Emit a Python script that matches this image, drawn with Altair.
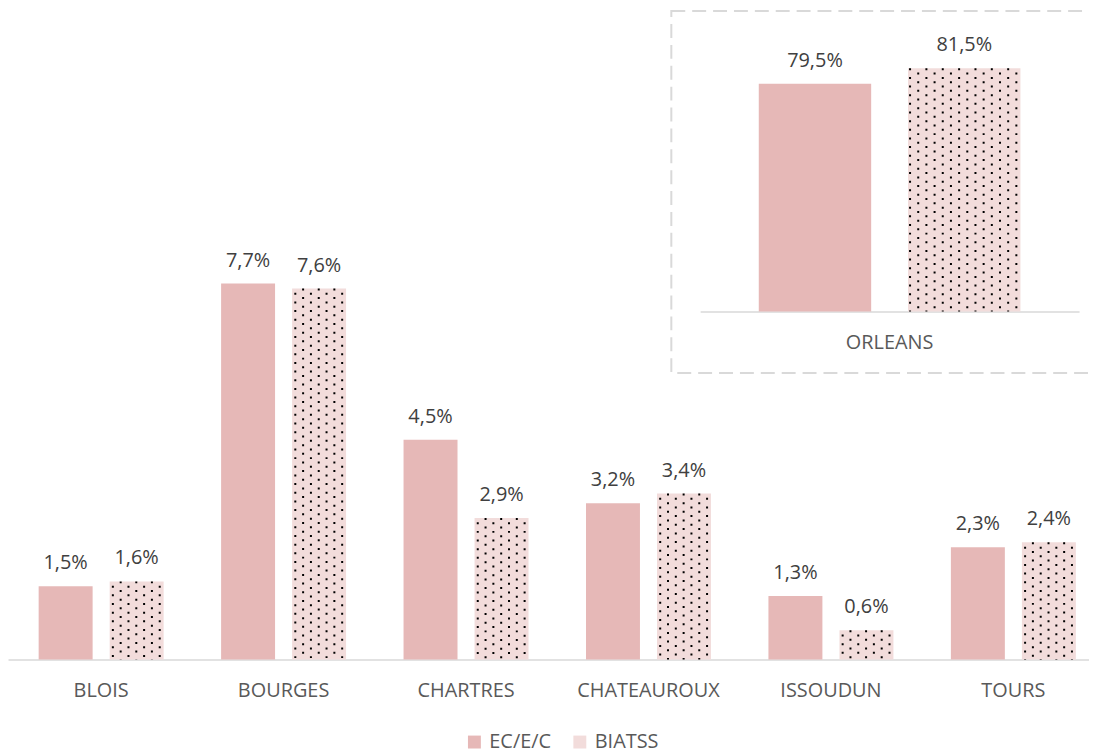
import altair as alt
import pandas as pd

categories = ["BLOIS", "BOURGES", "CHARTRES", "CHATEAUROUX", "ISSOUDUN", "TOURS"]
series_names = ["EC/E/C", "BIATSS"]
ec_values = [1.5, 7.7, 4.5, 3.2, 1.3, 2.3]
biatss_values = [1.6, 7.6, 2.9, 3.4, 0.6, 2.4]

inset_categories = ["ORLEANS"]
inset_ec_values = [79.5]
inset_biatss_values = [81.5]

colors = ["#E6B8B7", "#F2DCDB"]
FONT = "Open Sans"


def long_df(cats, ec, bi):
    rows = []
    for c, a, b in zip(cats, ec, bi):
        rows.append({"category": c, "series": series_names[0], "value": a})
        rows.append({"category": c, "series": series_names[1], "value": b})
    return pd.DataFrame(rows)


main_df = long_df(categories, ec_values, biatss_values)
inset_df = long_df(inset_categories, inset_ec_values, inset_biatss_values)

color_enc = alt.Color(
    "series:N",
    sort=series_names,
    scale=alt.Scale(domain=series_names, range=colors),
    legend=alt.Legend(
        title=None,
        orient="none",
        legendX=459,
        legendY=726,
        direction="horizontal",
        symbolType="square",
        symbolSize=169,
        symbolStrokeWidth=0,
        labelFont=FONT,
        labelFontSize=20,
        labelColor="#595959",
        labelOffset=5,
        columnPadding=18,
    ),
)

# ---------------- main chart ----------------
main_x = alt.X(
    "category:N",
    sort=categories,
    scale=alt.Scale(domain=categories, paddingInner=0.315, paddingOuter=0.12, align=0.7),
    axis=alt.Axis(
        title=None,
        orient="bottom",
        labelAngle=0,
        ticks=False,
        tickSize=0,
        domainColor="#D9D9D9",
        domainWidth=1.5,
        labelFont=FONT,
        labelFontSize=20,
        labelColor="#595959",
        labelPadding=37,
        labelBaseline="alphabetic",
    ),
)
main_y_scale = alt.Scale(domain=[0, 13.3], nice=False, zero=True)
main_xoff = alt.XOffset("series:N", sort=series_names,
                        scale=alt.Scale(domain=series_names, paddingInner=0.24, paddingOuter=0))

main_base = alt.Chart(main_df)
main_bars = main_base.mark_bar().encode(
    x=main_x,
    xOffset=main_xoff,
    y=alt.Y("value:Q", scale=main_y_scale, axis=None),
    color=color_enc,
)
main_labels = main_base.mark_text(
    baseline="alphabetic", dy=-17, font=FONT, fontSize=20, color="#404040"
).transform_calculate(
    label="replace(format(datum.value, '.1f'), '.', ',') + '%'"
).encode(
    x=main_x,
    xOffset=main_xoff,
    y=alt.Y("value:Q", scale=main_y_scale, axis=None),
    text="label:N",
)
main_dots = main_base.mark_rule(color="#000000", strokeWidth=2).transform_filter(
    alt.datum.series == series_names[1]
).transform_calculate(
    slot="sequence(9, 16)"
).transform_flatten(["slot"]).transform_calculate(
    parity="datum.slot % 2"
).encode(
    x=main_x,
    xOffset=alt.XOffset("slot:O", scale=alt.Scale(domain=list(range(16)), paddingInner=0, paddingOuter=0)),
    y=alt.Y("value:Q", scale=main_y_scale, axis=None),
    y2=alt.datum(0),
    strokeDash=alt.StrokeDash("parity:N", scale=alt.Scale(domain=[0, 1], range=[[2, 6.7], [0, 4.35, 2, 2.35]]), legend=None),
)
main = alt.layer(alt.layer(main_bars, main_labels), main_dots).resolve_scale(xOffset="independent")

# ---------------- inset chart ----------------
inset_x = alt.X(
    "category:N",
    scale=alt.Scale(domain=inset_categories, range=[696, 1077], paddingInner=0, paddingOuter=0.224),
    axis=alt.Axis(
        title=None,
        orient="bottom",
        labelAngle=0,
        ticks=False,
        tickSize=0,
        offset=-350,
        domainColor="#D9D9D9",
        domainWidth=1.5,
        labelFont=FONT,
        labelFontSize=20,
        labelColor="#595959",
        labelPadding=37,
        labelBaseline="alphabetic",
    ),
)
inset_y_scale = alt.Scale(domain=[50, 88], range=[303, 8], clamp=True, zero=False, nice=False)
inset_xoff = alt.XOffset("series:N", sort=series_names,
                         scale=alt.Scale(domain=series_names, paddingInner=0.247, paddingOuter=0))
inset_base = alt.Chart(inset_df)
inset_bars = inset_base.mark_bar().encode(
    x=inset_x,
    xOffset=inset_xoff,
    y=alt.Y("value:Q", scale=inset_y_scale, axis=None),
    color=alt.Color("series:N", sort=series_names,
                    scale=alt.Scale(domain=series_names, range=colors), legend=None),
)
inset_labels = inset_base.mark_text(
    baseline="alphabetic", dy=-17, font=FONT, fontSize=20, color="#404040"
).transform_calculate(
    label="replace(format(datum.value, '.1f'), '.', ',') + '%'"
).encode(
    x=inset_x,
    xOffset=inset_xoff,
    y=alt.Y("value:Q", scale=inset_y_scale, axis=None),
    text="label:N",
)
inset_dots = inset_base.mark_rule(color="#000000", strokeWidth=2).transform_filter(
    alt.datum.series == series_names[1]
).transform_calculate(
    slot="sequence(18, 32)"
).transform_flatten(["slot"]).transform_calculate(
    parity="datum.slot % 2"
).encode(
    x=inset_x,
    xOffset=alt.XOffset("slot:O", scale=alt.Scale(domain=list(range(32)), paddingInner=0, paddingOuter=0)),
    y=alt.Y("value:Q", scale=inset_y_scale, axis=None),
    y2=alt.datum(50),
    strokeDash=alt.StrokeDash("parity:N", scale=alt.Scale(domain=[0, 1], range=[[2, 6.7], [0, 4.35, 2, 2.35]]), legend=None),
)
inset = alt.layer(alt.layer(inset_bars, inset_labels), inset_dots).resolve_scale(xOffset="independent")

# dashed frame around the inset
frame = alt.Chart(alt.Data(values=[{}])).mark_rect(
    filled=False, stroke="#D9D9D9", strokeWidth=2, strokeDash=[14, 7]
).encode(
    x=alt.value(667), x2=alt.value(1104), y=alt.value(1), y2=alt.value(365)
)

chart = alt.layer(main, inset, frame).resolve_scale(
    x="independent", y="independent", xOffset="independent"
).properties(
    width=1087,
    height=653,
    autosize=alt.AutoSizeParams(type="none"),
    padding={"left": 0, "top": 0, "right": 0, "bottom": 110},
).configure_view(stroke=None)

chart.save("out.html", embed_options={"renderer": "svg", "actions": False})
